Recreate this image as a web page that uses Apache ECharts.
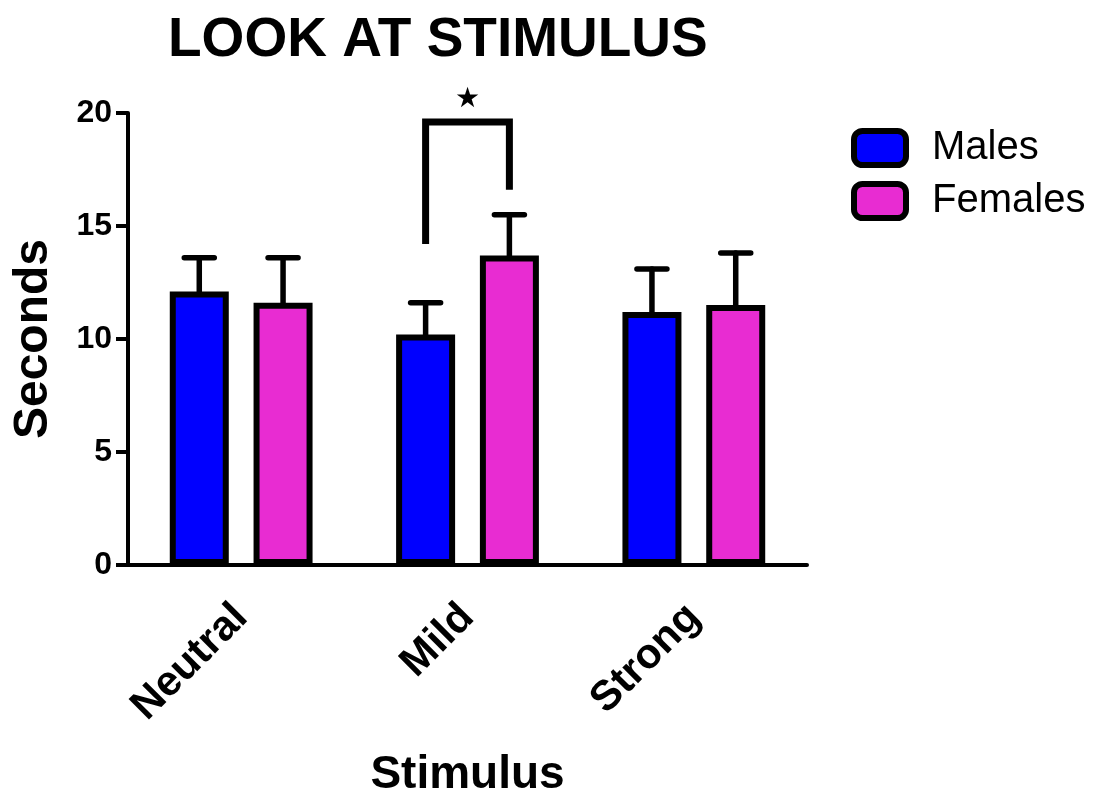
<!DOCTYPE html>
<html>
<head>
<meta charset="utf-8">
<script src="https://cdn.jsdelivr.net/npm/echarts@6/dist/echarts.min.js"></script>
<style>html,body{margin:0;padding:0;background:#fff;overflow:hidden}#c{width:1100px;height:794px}</style>
</head>
<body>
<div id="c"></div>
<script>
var categories = ['Neutral', 'Mild', 'Strong'];
var malesMean = [12.1, 10.2, 11.2];
var malesUpper = [13.6, 11.6, 13.1];
var femalesMean = [11.6, 13.7, 11.5];
var femalesUpper = [13.6, 15.5, 13.8];
var yTicks = [0, 5, 10, 15, 20];
// significance bracket: [category, left leg bottom, top, right leg bottom, star]
var bracket = [[1, 14.2, 19.6, 16.6, 20.6]];

var FONT = 'Liberation Sans, Arial, sans-serif';
var BAR_W = 59, BAR_GAP = 0.42;
var OFF = BAR_W * (1 + BAR_GAP) / 2;

function errRender(offset) {
  return function (params, api) {
    var c = api.value(0);
    var p0 = api.coord([c, api.value(1)]);
    var p1 = api.coord([c, api.value(2)]);
    var x = p0[0] + offset;
    var st = {stroke: '#000', lineWidth: 5.5, lineCap: 'round'};
    return {type: 'group', children: [
      {type: 'line', shape: {x1: x, y1: p0[1], x2: x, y2: p1[1]}, style: st},
      {type: 'line', shape: {x1: x - 15, y1: p1[1], x2: x + 15, y2: p1[1]}, style: st}
    ]};
  };
}

function bracketRender(params, api) {
  var c = api.value(0);
  var pl = api.coord([c, api.value(1)]);
  var pt = api.coord([c, api.value(2)]);
  var pr = api.coord([c, api.value(3)]);
  var ps = api.coord([c, api.value(4)]);
  var xl = pl[0] - OFF, xr = pl[0] + OFF;
  return {type: 'group', children: [
    {type: 'polyline', shape: {points: [[xl, pl[1]], [xl, pt[1]], [xr, pt[1]], [xr, pr[1]]]},
     style: {stroke: '#000', lineWidth: 7, fill: null, lineJoin: 'miter', lineCap: 'butt'}},
    {type: 'text', x: ps[0], y: ps[1], style: {text: '★', fill: '#000', font: '28px DejaVu Sans', align: 'center', verticalAlign: 'middle'}}
  ]};
}

var chart = echarts.init(document.getElementById('c'), null, {renderer: 'canvas', width: 1100, height: 794});
chart.setOption({
  animation: false,
  backgroundColor: '#fff',
  title: {
    text: 'LOOK AT STIMULUS', left: 163, top: 8,
    textStyle: {fontFamily: FONT, fontWeight: 'bold', fontSize: 55, color: '#000'}
  },
  legend: {
    data: ['Males', 'Females'], orient: 'vertical', left: 851, top: 128, padding: 0,
    itemWidth: 52, itemHeight: 34, itemGap: 13,
    icon: 'roundRect',
    itemStyle: {borderColor: '#000', borderWidth: 6},
    textStyle: {fontFamily: FONT, fontSize: 40, color: '#000', padding: [0, 0, 0, 21]}
  },
  grid: {left: 128, width: 679, top: 113, height: 452, containLabel: false, outerBoundsMode: 'none'},
  xAxis: {
    type: 'category', data: categories,
    name: 'Stimulus', nameLocation: 'middle', nameGap: 187,
    nameTextStyle: {fontFamily: FONT, fontWeight: 'bold', fontSize: 46, color: '#000'},
    axisLine: {lineStyle: {color: '#000', width: 4}},
    axisTick: {alignWithLabel: true, length: 13, lineStyle: {color: '#000', width: 4}},
    axisLabel: {rotate: 45, margin: 46, fontFamily: FONT, fontWeight: 'bold', fontSize: 42, color: '#000'}
  },
  yAxis: {
    type: 'value', min: yTicks[0], max: yTicks[yTicks.length - 1], interval: 5,
    name: 'Seconds', nameLocation: 'middle', nameGap: 70,
    nameTextStyle: {fontFamily: FONT, fontWeight: 'bold', fontSize: 48, color: '#000'},
    axisLine: {show: true, lineStyle: {color: '#000', width: 4}},
    axisTick: {show: true, length: 12, lineStyle: {color: '#000', width: 4}},
    axisLabel: {margin: 16, fontFamily: FONT, fontWeight: 'bold', fontSize: 32, color: '#000'},
    splitLine: {show: false}
  },
  series: [
    {name: 'Males', type: 'bar', data: malesMean, barWidth: BAR_W, barGap: (BAR_GAP * 100) + '%', z: 3,
     itemStyle: {color: '#0000FF', borderColor: '#000', borderWidth: 6}},
    {name: 'Females', type: 'bar', data: femalesMean, barWidth: BAR_W, barGap: (BAR_GAP * 100) + '%', z: 3,
     itemStyle: {color: '#E82CD2', borderColor: '#000', borderWidth: 6}},
    {name: 'MalesErr', type: 'custom', renderItem: errRender(-OFF), z: 2,
     data: categories.map(function (c, i) { return [i, malesMean[i], malesUpper[i]]; })},
    {name: 'FemalesErr', type: 'custom', renderItem: errRender(OFF), z: 2,
     data: categories.map(function (c, i) { return [i, femalesMean[i], femalesUpper[i]]; })},
    {name: 'Bracket', type: 'custom', renderItem: bracketRender, z: 4, data: bracket}
  ]
});
</script>
</body>
</html>
